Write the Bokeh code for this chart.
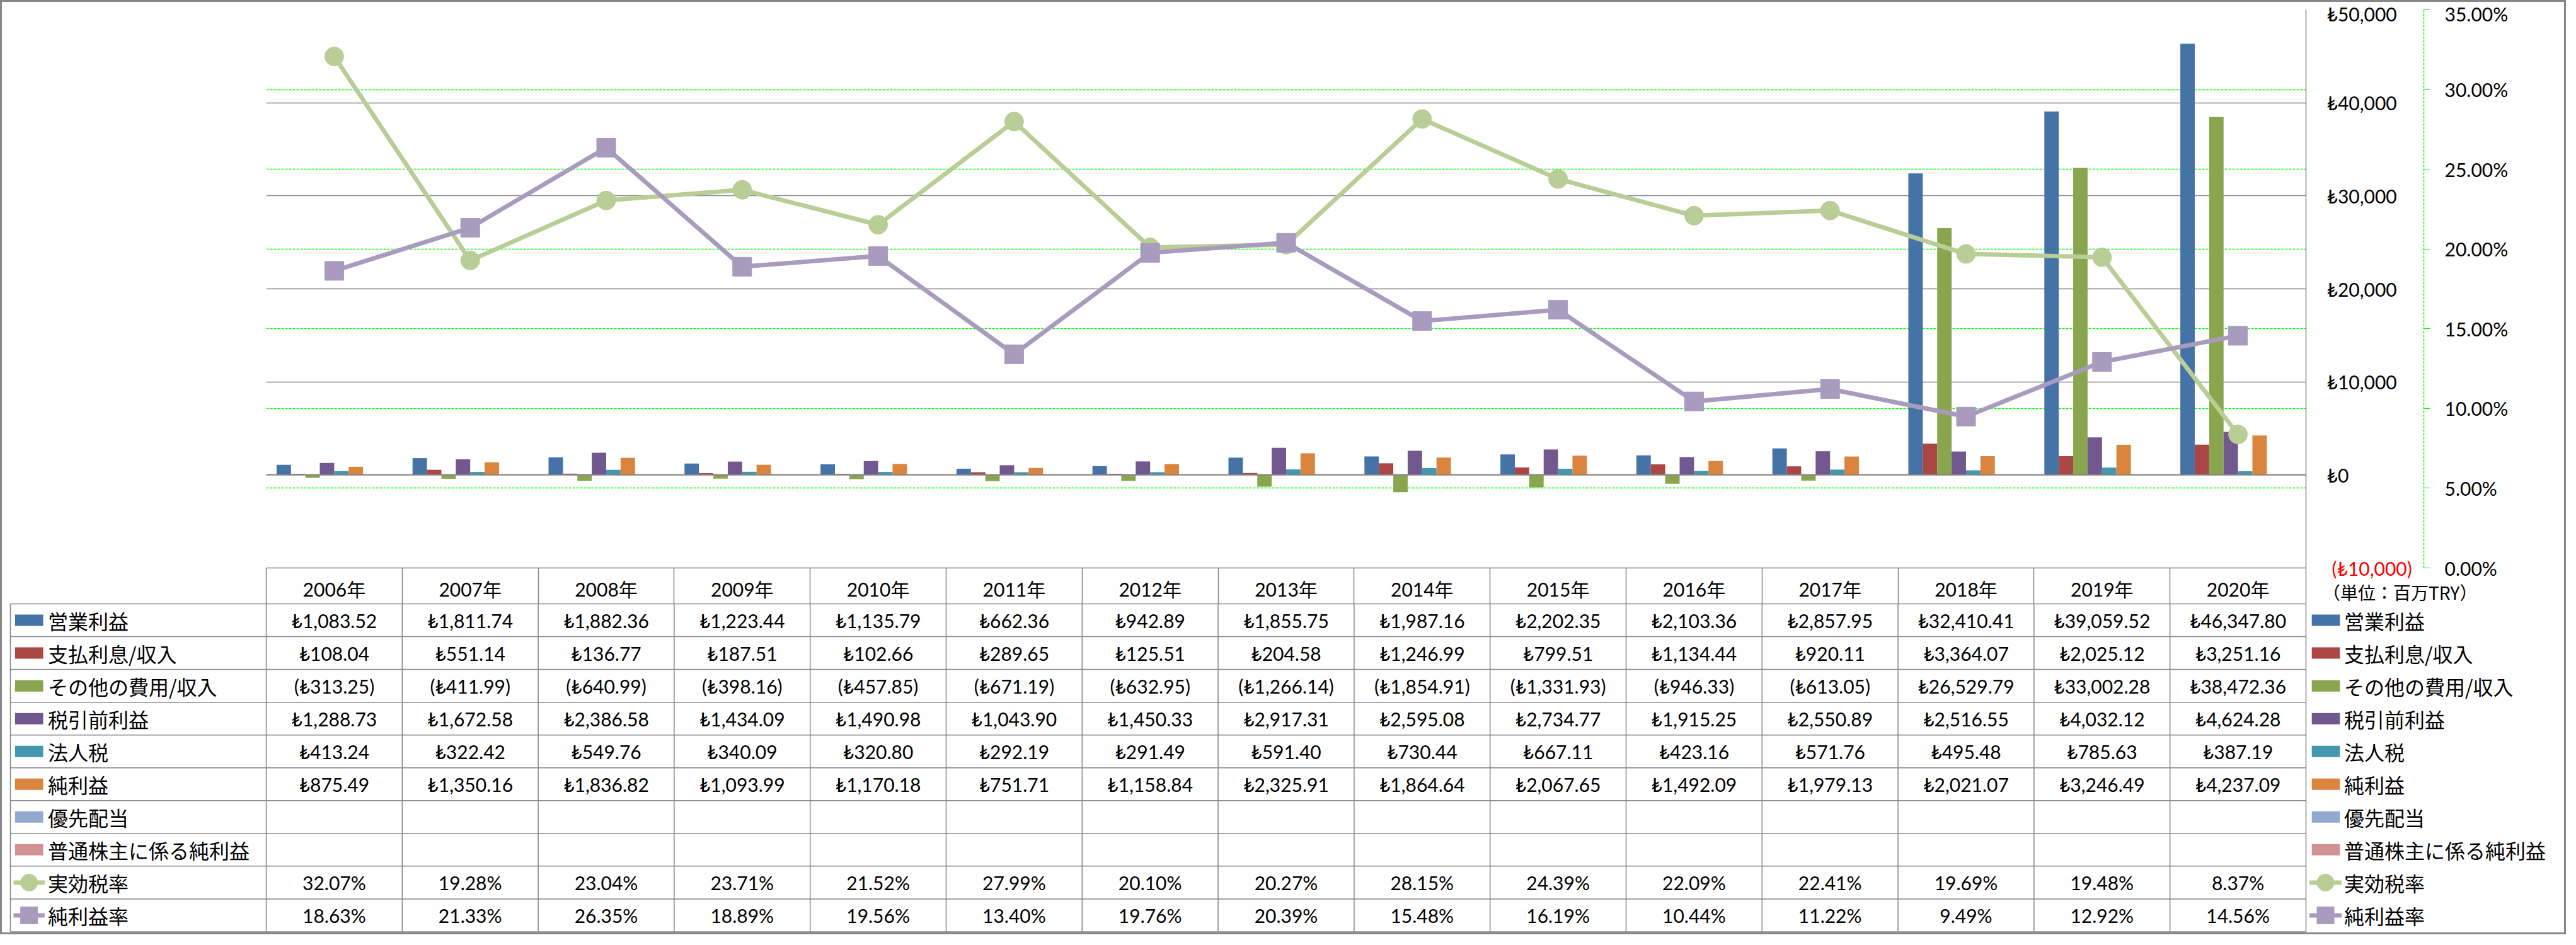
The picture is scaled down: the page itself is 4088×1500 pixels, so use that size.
from bokeh.plotting import figure
from bokeh.models import (Range1d, LinearAxis, FixedTicker, PrintfTickFormatter, Grid,
                          ColumnDataSource, Span)
from bokeh.transform import dodge
from bokeh.layouts import column
from bokeh.embed import file_html
from bokeh.resources import INLINE
from bokeh.core.properties import value

# ---------------- data ----------------
years = ["2006年", "2007年", "2008年", "2009年", "2010年", "2011年", "2012年", "2013年",
         "2014年", "2015年", "2016年", "2017年", "2018年", "2019年", "2020年"]

bar_names = ["営業利益", "支払利息/収入", "その他の費用/収入", "税引前利益", "法人税", "純利益",
             "優先配当", "普通株主に係る純利益"]
line_names = ["実効税率", "純利益率"]

operating_income = [1083.52, 1811.74, 1882.36, 1223.44, 1135.79, 662.36, 942.89, 1855.75,
                    1987.16, 2202.35, 2103.36, 2857.95, 32410.41, 39059.52, 46347.80]
interest = [108.04, 551.14, 136.77, 187.51, 102.66, 289.65, 125.51, 204.58,
            1246.99, 799.51, 1134.44, 920.11, 3364.07, 2025.12, 3251.16]
other_expense = [-313.25, -411.99, -640.99, -398.16, -457.85, -671.19, -632.95, -1266.14,
                 -1854.91, -1331.93, -946.33, -613.05, 26529.79, 33002.28, 38472.36]
pretax_income = [1288.73, 1672.58, 2386.58, 1434.09, 1490.98, 1043.90, 1450.33, 2917.31,
                 2595.08, 2734.77, 1915.25, 2550.89, 2516.55, 4032.12, 4624.28]
income_tax = [413.24, 322.42, 549.76, 340.09, 320.80, 292.19, 291.49, 591.40,
              730.44, 667.11, 423.16, 571.76, 495.48, 785.63, 387.19]
net_income = [875.49, 1350.16, 1836.82, 1093.99, 1170.18, 751.71, 1158.84, 2325.91,
              1864.64, 2067.65, 1492.09, 1979.13, 2021.07, 3246.49, 4237.09]
preferred_dividends = [None] * 15
net_income_common = [None] * 15

effective_tax_rate = [32.07, 19.28, 23.04, 23.71, 21.52, 27.99, 20.10, 20.27,
                      28.15, 24.39, 22.09, 22.41, 19.69, 19.48, 8.37]
net_margin = [18.63, 21.33, 26.35, 18.89, 19.56, 13.40, 19.76, 20.39,
              15.48, 16.19, 10.44, 11.22, 9.49, 12.92, 14.56]

money_ticks = [-10000, 0, 10000, 20000, 30000, 40000, 50000]
pct_ticks = [0, 5, 10, 15, 20, 25, 30, 35]
unit_text = "（単位：百万TRY）"

bar_colors = ["#4572A7", "#AA4643", "#89A54E", "#71588F", "#4198AF", "#DB843D",
              "#93A9CF", "#D19392"]
line_colors = ["#B9CD96", "#A99BBD"]
line_markers = ["circle", "square"]

# ---------------- layout constants ----------------
W = 4066
FRAME_L = 419
FRAME_R = 410
FRAME_W = W - FRAME_L - FRAME_R
TOP = 12
CHART_H = 886
HEADER_H = 57
ROW_H = 52.0
T_OVER = 40          # table canvas reaches up into the header row (for the unit note)
N = len(years)
PX = FRAME_W / N
BW = 0.106
GRAY = "#868686"
GREEN = "#00FF00"
NUM_FONT_S = "Lato, Noto Sans, Noto Sans CJK JP"
NUM_FONT = value(NUM_FONT_S)
JP_FONT = value("Noto Sans CJK JP")
LABEL_GAP = 33
EST_W_MONEY = 106     # estimated width of "₺50,000"

bar_series = [operating_income, interest, other_expense, pretax_income, income_tax,
              net_income, preferred_dividends, net_income_common]
line_series = [effective_tax_rate, net_margin]

# ---------------- chart (plot + table header row) ----------------
p = figure(width=W, height=TOP + CHART_H + HEADER_H,
           x_range=Range1d(0, N), y_range=Range1d(money_ticks[0], money_ticks[-1]),
           y_axis_location="right", output_backend="svg", toolbar_location=None,
           min_border_left=FRAME_L, min_border_right=FRAME_R,
           min_border_top=TOP, min_border_bottom=HEADER_H)
p.frame_align = False
p.title.visible = False
p.outline_line_color = None
p.background_fill_color = "white"
p.border_fill_color = "white"
p.extra_y_ranges = {"pct": Range1d(pct_ticks[0], pct_ticks[-1])}

centers = [i + 0.5 for i in range(N)]
src = {"x": centers}
for k, s in enumerate(bar_series):
    src[f"b{k}"] = [float("nan") if v is None else v for v in s]
for k, s in enumerate(line_series):
    src[f"l{k}"] = s
source = ColumnDataSource(src)

# grids
p.xgrid.visible = False
p.ygrid[0].ticker = FixedTicker(ticks=money_ticks)
p.ygrid[0].grid_line_color = GRAY
p.ygrid[0].grid_line_width = 1.5
pct_grid = Grid(dimension=1, ticker=FixedTicker(ticks=pct_ticks[1:]), y_range_name="pct",
                grid_line_color=GREEN, grid_line_dash="4 2", grid_line_width=1.5)
p.add_layout(pct_grid)
p.add_layout(Span(location=0, dimension="width", line_color=GRAY, line_width=2))

# bars
for k in range(len(bar_series)):
    off = (k - (len(bar_series) - 1) / 2) * BW
    p.vbar(x=dodge("x", off, range=p.x_range), top=f"b{k}", width=BW, source=source,
           fill_color=bar_colors[k], line_color=None)

# lines
for k in range(len(line_series)):
    p.line(x="x", y=f"l{k}", source=source, y_range_name="pct",
           line_color=line_colors[k], line_width=7)
    p.scatter(x="x", y=f"l{k}", source=source, y_range_name="pct", marker=line_markers[k],
              size=30, fill_color=line_colors[k], line_color=line_colors[k])

# x axis = table header row (years, column dividers)
xa = p.xaxis[0]
xa.ticker = FixedTicker(ticks=centers, minor_ticks=list(range(N + 1)))
xa.major_label_overrides = {c: y for c, y in zip(centers, years)}
xa.axis_line_color = GRAY
xa.axis_line_width = 1.5
xa.major_tick_out = 0
xa.major_tick_in = 0
xa.minor_tick_out = HEADER_H
xa.minor_tick_in = 0
xa.minor_tick_line_color = GRAY
xa.minor_tick_line_width = 1.5
xa.major_label_standoff = -HEADER_H + 15
xa.major_label_text_font = NUM_FONT_S
xa.major_label_text_font_size = "30px"
xa.major_label_text_color = "black"

# money axis (black labels)
ya = p.yaxis[0]
ya.ticker = FixedTicker(ticks=money_ticks[1:])
ya.major_label_overrides = {v: f"₺{v:,}" for v in money_ticks[1:]}
ya.axis_line_color = GRAY
ya.axis_line_width = 1.5
ya.major_tick_out = 0
ya.major_tick_in = 0
ya.minor_tick_out = 0
ya.minor_tick_in = 0
ya.major_label_standoff = LABEL_GAP
ya.major_label_text_font = NUM_FONT_S
ya.major_label_text_font_size = "30px"
ya.major_label_text_color = "black"

# money axis, negative values shown in red
ra = LinearAxis(ticker=FixedTicker(ticks=money_ticks[:1]))
ra.major_label_overrides = {v: f"(₺{-v:,})" for v in money_ticks[:1]}
ra.axis_line_color = None
ra.major_tick_out = 0
ra.major_tick_in = 0
ra.minor_tick_out = 0
ra.minor_tick_in = 0
ra.major_label_standoff = LABEL_GAP - (LABEL_GAP + EST_W_MONEY)
ra.major_label_text_font = NUM_FONT_S
ra.major_label_text_font_size = "30px"
ra.major_label_text_color = "#FF0000"
ra.axis_label = " "
ra.axis_label_standoff = 2
ra.axis_label_text_font_size = "10px"
p.add_layout(ra, "right")

# percent axis
pa = LinearAxis(y_range_name="pct", ticker=FixedTicker(ticks=pct_ticks),
                formatter=PrintfTickFormatter(format="%.2f%%"))
pa.axis_line_color = GREEN
pa.axis_line_dash = "4 2"
pa.axis_line_width = 1.5
pa.major_tick_out = 10
pa.major_tick_in = 0
pa.major_tick_line_color = GREEN
pa.minor_tick_out = 0
pa.minor_tick_in = 0
pa.major_label_standoff = 23
pa.major_label_text_font = NUM_FONT_S
pa.major_label_text_font_size = "30px"
pa.major_label_text_color = "black"
p.add_layout(pa, "right")

# ---------------- table body ----------------
NR = len(bar_names) + len(line_names)
PAD = 0.03
t = figure(width=W, height=int(round((NR + PAD) * ROW_H + T_OVER)),
           x_range=Range1d(-FRAME_L / PX, (W - FRAME_L) / PX),
           y_range=Range1d(NR + PAD, -T_OVER / ROW_H),
           output_backend="svg", toolbar_location=None,
           min_border_left=0, min_border_right=0, min_border_top=0, min_border_bottom=0,
           x_axis_type=None, y_axis_type=None)
t.frame_align = False
t.margin = (-T_OVER, 0, 0, 0)
t.title.visible = False
t.grid.visible = False
t.outline_line_color = None
t.background_fill_color = None
t.border_fill_color = None

LEFT_X = -406 / PX


def fmt_money(v):
    if v is None:
        return ""
    return f"(₺{-v:,.2f})" if v < 0 else f"₺{v:,.2f}"


def fmt_pct(v):
    return "" if v is None else f"{v:.2f}%"


cx, cy, ct = [], [], []
for r, s in enumerate(bar_series):
    for j, v in enumerate(s):
        cx.append(j + 0.5); cy.append(r + 0.5); ct.append(fmt_money(v))
for r, s in enumerate(line_series):
    for j, v in enumerate(s):
        cx.append(j + 0.5); cy.append(len(bar_series) + r + 0.5); ct.append(fmt_pct(v))
t.text(x=cx, y=cy, text=ct, text_font=NUM_FONT, text_font_size="30px",
       text_align="center", text_baseline="middle", text_color="black")

# unit note (right of the header row)
t.text(x=[N + 26.5 / PX], y=[-19 / ROW_H], text=[unit_text], text_font=JP_FONT,
       text_font_size="28px", text_align="left", text_baseline="middle", text_color="black")

# borders
hy = list(range(NR + 1))
t.segment(x0=[LEFT_X] * len(hy), y0=hy, x1=[N] * len(hy), y1=hy,
          line_color=GRAY, line_width=1.5)
vx = [LEFT_X] + list(range(N + 1))
t.segment(x0=vx, y0=[0] * len(vx), x1=vx, y1=[NR] * len(vx),
          line_color=GRAY, line_width=1.5)

# legends (left row headers and right legend)
all_names = bar_names + line_names
for sw_c, line0, line1, txt_x in [
        (-376.3 / PX, -401 / PX, -351.6 / PX, -346.6 / PX),
        (N + 31.5 / PX, N + 5.5 / PX, N + 56.5 / PX, N + 60.5 / PX)]:
    nb = len(bar_names)
    t.rect(x=[sw_c] * nb, y=[r + 0.5 for r in range(nb)], width=44.6, height=18,
           width_units="screen", height_units="screen",
           fill_color=bar_colors, line_color=None)
    for k in range(len(line_names)):
        yy = nb + k + 0.5
        t.segment(x0=[line0], y0=[yy], x1=[line1], y1=[yy],
                  line_color=line_colors[k], line_width=7)
        t.scatter(x=[(line0 + line1) / 2], y=[yy], marker=line_markers[k], size=27,
                  fill_color=line_colors[k], line_color=line_colors[k])
    t.text(x=[txt_x] * NR, y=[r + 0.5 for r in range(NR)], text=all_names,
           text_font=JP_FONT, text_font_size="32px", text_align="left",
           text_baseline="middle", text_color="black")

layout = column(p, t, spacing=0, styles={"border": "3px solid #878787"})

with open("out.html", "w") as f:
    f.write(file_html(layout, INLINE, title="chart"))
